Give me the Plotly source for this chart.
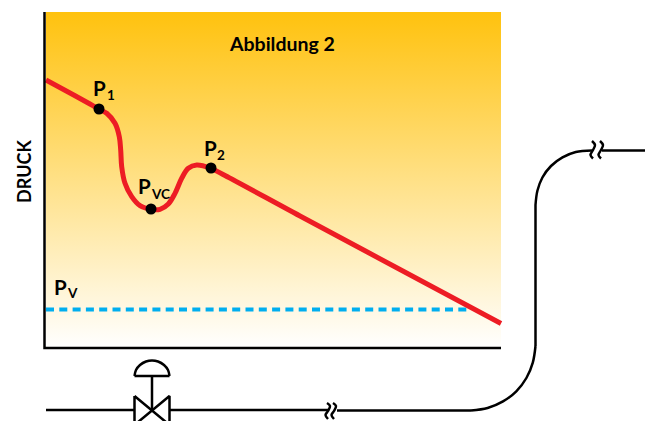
import plotly.graph_objects as go

# readings in picture units (x to the right, y downwards)
area_x = [46, 501, 501, 46, 46]
area_y = [12, 12, 348, 348, 12]
axis_x = [44.5, 44.5, 501]
axis_y = [12, 348, 348]

druck_x = [46, 70, 90, 98.7, 106.7, 115, 119.3, 120.7, 121.7, 125, 131.7, 140, 151, 160, 168.3, 175, 181.7, 188.3, 196.7, 210.7, 225, 300, 400, 501]
druck_y = [80, 93, 104, 109, 113.3, 123.3, 136.7, 150, 166.7, 183.3, 196.7, 205.7, 209.3, 209.3, 204, 193.3, 178.3, 168.3, 165, 168.3, 175.5, 216, 269.5, 323.5]
punkt_x = [99, 151, 211]
punkt_y = [109, 209, 168]
dampf_x = [46, 467]
dampf_y = [309.5, 309.5]

rohr1_x = [46, 134]
rohr1_y = [410, 410]
rohr2_x = [170, 328]
rohr2_y = [410, 410]
rohr3_x = [337, 471]
rohr3_y = [410.5, 410.5]
bogen1_x = [471, 487.6, 503, 516.3, 526.4, 532.8, 535.5]
bogen1_y = [410.5, 408, 401.4, 391.3, 378, 362.6, 346]
rohr5_x = [535.5, 535.5]
rohr5_y = [346, 205]
bogen2_x = [535.5, 537.4, 542.4, 551, 562.5, 575.8, 592]
bogen2_y = [205, 190.8, 177.5, 166, 157.4, 152, 150.5]
rohr4_x = [602, 645]
rohr4_y = [150.5, 150.5]

bruch1a_x = [327, 330, 328, 325.5, 328]
bruch1a_y = [403, 406, 411, 415, 419]
bruch1b_x = [333, 336, 334, 331.5, 334]
bruch1b_y = [403, 406, 411, 415, 419]
bruch2a_x = [592, 595, 593, 590.5, 593]
bruch2a_y = [141, 145, 150, 155, 158.5]
bruch2b_x = [600, 603, 601, 598.5, 601]
bruch2b_y = [141, 145, 150, 155, 158.5]

ventil_x = [134.5, 134.5, 169.5, 169.5, 134.5]
ventil_y = [396, 425, 396, 425, 396]
stange_x = [152, 152]
stange_y = [376, 410]
kappe_x = [134.5, 136, 140, 146, 152, 158, 164, 168, 169.5]
kappe_y = [376, 370, 365, 361.5, 360.5, 361.5, 365, 370, 376]
boden_x = [134.5, 169.5]
boden_y = [376, 376]

titel = "Abbildung 2"
titel_x = 282
titel_y = 43.5
gross = ["P", "P", "P", "P"]
gross_x = [99, 144, 210, 60]
gross_y = [87.5, 186, 147.5, 287]
klein = ["1", "VC", "2", "V"]
klein_x = [110.5, 160.5, 221, 72.5]
klein_y = [95, 193.5, 154.5, 293]
achse = "DRUCK"

fig = go.Figure()

def linie(x, y, color="#000000", width=2.5, shape="linear", dash="solid"):
    line = dict(color=color, width=width, shape=shape, dash=dash)
    if shape == "spline":
        line["smoothing"] = 1.0
    fig.add_trace(go.Scatter(x=x, y=y, mode="lines", line=line, hoverinfo="skip", showlegend=False))

def text(t, x, y, size, angle=0):
    fig.add_annotation(x=x, y=y, text=t, showarrow=False, xanchor="center", yanchor="middle", textangle=angle,
                       font=dict(family="Lato", size=size, color="#000000", weight="bold"))

fig.add_trace(go.Scatter(
    x=area_x, y=area_y, mode="lines", fill="toself", line=dict(width=0),
    fillgradient=dict(type="vertical", colorscale=[[0, "#FFFFFF"], [1, "#FFC20E"]]),
    hoverinfo="skip", showlegend=False,
))
linie(dampf_x, dampf_y, "#00AEEF", 4, dash="8px 5.3px")
linie(druck_x, druck_y, "#ED1C24", 5, "spline")
linie(axis_x, axis_y, "#000000", 2.5)
for bx, by in [(rohr1_x, rohr1_y), (rohr2_x, rohr2_y), (rohr3_x, rohr3_y), (rohr4_x, rohr4_y), (rohr5_x, rohr5_y),
               (ventil_x, ventil_y), (stange_x, stange_y), (boden_x, boden_y)]:
    linie(bx, by)
for bx, by in [(kappe_x, kappe_y), (bogen1_x, bogen1_y), (bogen2_x, bogen2_y),
               (bruch1a_x, bruch1a_y), (bruch1b_x, bruch1b_y), (bruch2a_x, bruch2a_y), (bruch2b_x, bruch2b_y)]:
    linie(bx, by, shape="spline")

fig.add_trace(go.Scatter(x=punkt_x, y=punkt_y, mode="markers",
                         marker=dict(color="#000000", size=11), hoverinfo="skip", showlegend=False))

text(titel, titel_x, titel_y, 19.5)
for t, x, y in zip(gross, gross_x, gross_y):
    text(t, x, y, 20.5)
for t, x, y in zip(klein, klein_x, klein_y):
    text(t, x, y, 13.5)
text(achse, 24, 172, 18, -90)

fig.update_layout(
    width=652, height=421, margin=dict(l=0, r=0, t=0, b=0),
    paper_bgcolor="#FFFFFF", plot_bgcolor="#FFFFFF",
    xaxis=dict(range=[0, 652], visible=False, fixedrange=True),
    yaxis=dict(range=[421, 0], visible=False, fixedrange=True),
    showlegend=False,
)
fig.write_html("out.html", config=dict(displayModeBar=False),
               post_script="document.body.style.margin='0';document.body.style.overflow='hidden';")
